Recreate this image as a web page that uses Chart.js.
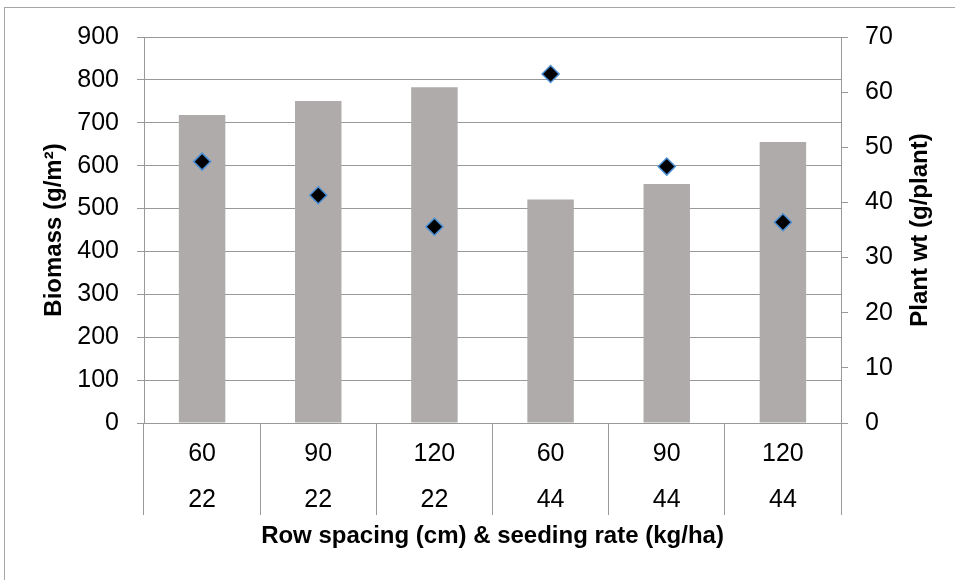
<!DOCTYPE html>
<html>
<head>
<meta charset="utf-8">
<script src="https://cdn.jsdelivr.net/npm/chart.js@4/dist/chart.umd.min.js"></script>
<style>
    body { margin: 0; background: #fff; }
    #wrap { width: 955px; height: 580px; }
</style>
</head>
<body>
<div id="wrap"><canvas id="chart" width="955" height="580"></canvas></div>
<script>
// Données
const rowSpacing = ['60', '90', '120', '60', '90', '120'];
const seedingRate = ['22', '22', '22', '44', '44', '44'];
const biomass = [718, 751, 783, 521, 557, 655];
const plantWt = [47.4, 41.3, 35.6, 63.3, 46.5, 36.4];

const labels = rowSpacing.map((r, i) => [r, seedingRate[i]]);

const gridColor = '#999999';
const fontFamily = "'Liberation Sans', Arial, sans-serif";

// Titres des axes (le titre de droite se lit de bas en haut, comme dans Excel)
const axisTitles = {
    id: 'axisTitles',
    beforeDraw(chart) {
        const ctx = chart.ctx;
        ctx.save();
        ctx.strokeStyle = '#a6a6a6';
        ctx.lineWidth = 1;
        ctx.strokeRect(4.5, 7.5, 1000, 1000);
        ctx.restore();
    },
    afterDraw(chart) {
        const ctx = chart.ctx;
        const area = chart.chartArea;
        const midY = (area.top + area.bottom) / 2;
        ctx.save();
        ctx.fillStyle = '#000';
        ctx.font = 'bold 24px ' + fontFamily;
        ctx.textAlign = 'center';
        ctx.textBaseline = 'middle';

        ctx.fillText('Row spacing (cm) & seeding rate (kg/ha)', (area.left + area.right) / 2, 536);

        ctx.save();
        ctx.translate(54, midY);
        ctx.rotate(-Math.PI / 2);
        ctx.fillText('Biomass (g/m\u00B2)', 0, 0);
        ctx.restore();

        ctx.save();
        ctx.translate(920, midY);
        ctx.rotate(-Math.PI / 2);
        ctx.fillText('Plant wt (g/plant)', 0, 0);
        ctx.restore();

        ctx.restore();
    }
};

const chart = new Chart(document.getElementById('chart').getContext('2d'), {
    data: {
        labels: labels,
        datasets: [
            {
                type: 'line',
                label: 'Plant wt',
                data: plantWt,
                yAxisID: 'y1',
                showLine: false,
                pointStyle: 'rectRot',
                pointRadius: 8.5,
                pointHoverRadius: 8.5,
                pointBackgroundColor: '#000000',
                pointBorderColor: '#4a8fd6',
                pointBorderWidth: 1.5,
                order: 1
            },
            {
                type: 'bar',
                label: 'Biomass',
                data: biomass,
                yAxisID: 'y',
                backgroundColor: '#aeabaa',
                borderWidth: 0,
                barPercentage: 0.4,
                categoryPercentage: 1.0,
                order: 2
            }
        ]
    },
    options: {
        responsive: false,
        animation: false,
        devicePixelRatio: 1,
        layout: { padding: { left: 0, right: 0, top: 37, bottom: 0 } },
        plugins: {
            legend: { display: false },
            tooltip: { enabled: false }
        },
        scales: {
            x: {
                offset: true,
                grid: {
                    offset: true,
                    drawOnChartArea: false,
                    color: gridColor,
                    tickLength: 92
                },
                border: { display: true, color: gridColor },
                ticks: {
                    color: '#000',
                    padding: -84,
                    maxRotation: 0,
                    font: { family: fontFamily, size: 25, lineHeight: 1.84 }
                },
                afterFit(scale) { scale.height = 157; }
            },
            y: {
                position: 'left',
                min: 0,
                max: 900,
                ticks: {
                    stepSize: 100,
                    color: '#000',
                    padding: 18,
                    font: { family: fontFamily, size: 25 }
                },
                grid: { color: gridColor, tickLength: 7 },
                border: { display: true, color: gridColor },
                afterFit(scale) { scale.width = 144; }
            },
            y1: {
                position: 'right',
                min: 0,
                max: 70,
                ticks: {
                    stepSize: 10,
                    color: '#000',
                    padding: 17,
                    font: { family: fontFamily, size: 25 }
                },
                grid: { drawOnChartArea: false, color: gridColor, tickLength: 7 },
                border: { display: true, color: gridColor },
                afterFit(scale) { scale.width = 114; }
            }
        }
    },
    plugins: [axisTitles]
});
</script>
</body>
</html>
